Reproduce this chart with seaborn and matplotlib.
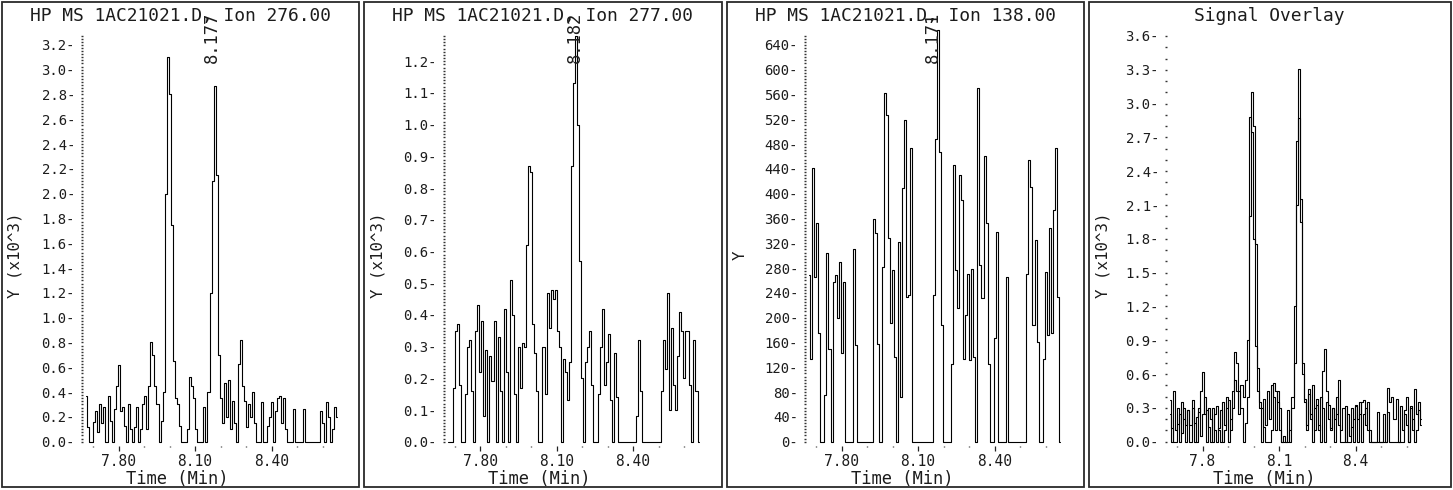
import numpy as np
import pandas as pd
import matplotlib
matplotlib.use("Agg")
import matplotlib.pyplot as plt
import matplotlib.transforms as mtransforms
from matplotlib.patches import Rectangle
from matplotlib.ticker import FixedLocator, MultipleLocator, FuncFormatter
import seaborn as sns

# Scan schedule of the SIM acquisition (minutes)
SCAN_START = 7.673
SCAN_STEP = 0.008

# Ion 276 abundance (x10^3)
ion_276 = [
    0.37, 0.12, 0, 0, 0.16, 0.25, 0.08, 0.30, 0.15, 0.28,
    0, 0.37, 0.17, 0, 0.26, 0.45, 0.62, 0.25, 0.28, 0.13,
    0, 0.30, 0.10, 0, 0.12, 0.28, 0, 0.10, 0.30, 0.37,
    0.10, 0.45, 0.80, 0.70, 0.45, 0.30, 0, 0.17, 0.40, 2.00,
    3.10, 2.80, 1.75, 0.65, 0.35, 0.30, 0.13, 0, 0, 0,
    0.10, 0.52, 0.45, 0.35, 0.10, 0, 0, 0, 0.28, 0,
    0.40, 1.20, 2.10, 2.87, 2.15, 0.70, 0.35, 0.15, 0.47, 0.20,
    0.50, 0.10, 0.33, 0.15, 0, 0.63, 0.82, 0.45, 0.33, 0.12,
    0.30, 0.20, 0.40, 0.15, 0, 0, 0.32, 0, 0, 0.13,
    0.20, 0.32, 0, 0.25, 0.35, 0.37, 0.15, 0.35, 0.10, 0,
    0, 0, 0.26, 0, 0, 0, 0, 0.26, 0, 0,
    0, 0, 0, 0, 0, 0.25, 0.15, 0, 0.32, 0.20,
    0, 0.10, 0.28, 0.20,
]

# Ion 277 abundance (x10^3)
ion_277 = [
    0, 0, 0, 0.17, 0.35, 0.37, 0.18, 0, 0, 0.15,
    0.30, 0.32, 0.16, 0, 0.35, 0.43, 0.22, 0.38, 0.08, 0.29,
    0, 0.27, 0.19, 0.38, 0, 0.33, 0.16, 0, 0.42, 0.22,
    0, 0.51, 0.40, 0.15, 0, 0.30, 0.17, 0.31, 0.30, 0.62,
    0.87, 0.85, 0.37, 0.28, 0.16, 0, 0, 0.30, 0.15, 0.47,
    0.36, 0.48, 0.45, 0.48, 0.35, 0.30, 0, 0.26, 0.22, 0.13,
    0.25, 0.87, 1.13, 1.28, 1.00, 0.57, 0.20, 0, 0.25, 0.30,
    0.35, 0.18, 0, 0, 0.15, 0.30, 0.42, 0.18, 0.25, 0.34,
    0.13, 0, 0.28, 0.14, 0, 0, 0, 0, 0, 0,
    0, 0, 0, 0.08, 0.32, 0.16, 0, 0, 0, 0,
    0, 0, 0, 0, 0, 0.16, 0.32, 0.23, 0.47, 0.10,
    0.36, 0.18, 0.10, 0.27, 0.41, 0.35, 0.20, 0.35, 0.35, 0.18,
    0, 0.32, 0.16, 0,
]

# Ion 138 abundance (counts)
ion_138 = [
    269, 133, 442, 265, 353, 175, 0, 0, 75, 304,
    150, 0, 258, 269, 199, 290, 143, 258, 0, 0,
    0, 0, 311, 156, 0, 0, 0, 0, 0, 0,
    0, 0, 359, 336, 158, 0, 282, 563, 527, 328,
    191, 277, 137, 0, 322, 72, 409, 519, 234, 236,
    473, 0, 0, 0, 0, 0, 0, 0, 0, 0,
    0, 236, 489, 664, 468, 188, 0, 0, 0, 0,
    126, 447, 277, 215, 430, 390, 134, 204, 271, 131,
    279, 137, 0, 570, 285, 231, 460, 352, 126, 0,
    0, 167, 339, 0, 0, 0, 0, 265, 0, 0,
    0, 0, 0, 0, 0, 0, 0, 271, 454, 411,
    188, 325, 161, 0, 0, 134, 274, 172, 344, 175,
    373, 473, 234, 0,
]

# Second signal of the overlay (x10^3)
overlay_b = [
    0.25, 0, 0.45, 0.10, 0.30, 0, 0.35, 0.20, 0, 0.28,
    0.15, 0.30, 0, 0.22, 0.30, 0.05, 0.25, 0.40, 0, 0.30,
    0.20, 0, 0.25, 0.32, 0.10, 0, 0.35, 0.15, 0.40, 0,
    0.20, 0.30, 0.55, 0.45, 0.25, 0.50, 0.40, 0.55, 0.90, 2.88,
    2.75, 1.80, 0.85, 0.45, 0.30, 0, 0.38, 0.15, 0.45, 0.20,
    0.50, 0.40, 0.10, 0.45, 0.30, 0, 0.05, 0, 0, 0.10,
    0.30, 0.70, 2.67, 3.31, 1.95, 0.60, 0.38, 0.10, 0.42, 0.25,
    0, 0.30, 0.38, 0.10, 0.40, 0.30, 0, 0.35, 0.20, 0.10,
    0.30, 0, 0.25, 0.55, 0.10, 0.30, 0, 0.25, 0.05, 0.30,
    0, 0.33, 0.20, 0.35, 0, 0.25, 0.30, 0.10, 0, 0,
    0, 0, 0, 0, 0, 0.25, 0, 0.48, 0.35, 0.40,
    0.20, 0.38, 0, 0.32, 0.10, 0.28, 0.40, 0, 0.30, 0.10,
    0.47, 0.25, 0.35, 0.15,
]

titles = [
    "HP MS 1AC21021.D, Ion 276.00",
    "HP MS 1AC21021.D, Ion 277.00",
    "HP MS 1AC21021.D, Ion 138.00",
    "Signal Overlay",
]
ylabels = ["Y (x10^3)", "Y (x10^3)", "Y", "Y (x10^3)"]
xlabel = "Time (Min)"
peak_labels = ["8.177", "8.182", "8.171", None]
peak_times = [8.177, 8.182, 8.171, None]
x_ticks = [7.80, 8.10, 8.40]
x_ticklabels = [["7.80", "8.10", "8.40"]] * 3 + [["7.8", "8.1", "8.4"]]
y_step = [0.2, 0.1, 40, 0.3]
y_tick_max = [3.2, 1.2, 640, 3.6]
y_minor = [0.025, 0.01, 5, 0.1]
y_fmt = ["{:.1f}-", "{:.1f}-", "{:.0f}-", "{:.1f}-"]

traces = [
    {"Ion 276": ion_276},
    {"Ion 277": ion_277},
    {"Ion 138": ion_138},
    {"Ion 276": ion_276, "Signal B": overlay_b},
]

sns.set_style("ticks")
plt.rcParams["font.family"] = ["DejaVu Sans Mono"]
TXT = "#1c1c1c"

W, H = 1453, 490
fig = plt.figure(figsize=(W / 100, H / 100), dpi=100)

# layout in pixels
panel_boxes = [(1.5, 359), (363.5, 722), (726.5, 1084), (1088.5, 1450.5)]
BOX_TOP, BOX_BOTTOM = 2.5, 487
spine_px = [82, 443.5, 805, 1166]
AX_TOP, AX_BOTTOM, AX_WIDTH = 33.0, 441.7, 263.0
PX_PER_MIN = 255.0
X_LEFT = 7.80 - 36.5 / PX_PER_MIN
X_RIGHT = X_LEFT + AX_WIDTH / PX_PER_MIN
px_per_unit = [124.0, 317.0, 0.62, 112.7]
ax_h = AX_BOTTOM - AX_TOP

for k in range(4):
    x0, x1 = panel_boxes[k]
    fig.add_artist(Rectangle((x0 / W, 1 - BOX_BOTTOM / H), (x1 - x0) / W,
                             (BOX_BOTTOM - BOX_TOP) / H, transform=fig.transFigure,
                             fill=False, lw=1.3, ec="#2a2a2a"))

    ax = fig.add_axes([spine_px[k] / W, 1 - AX_BOTTOM / H, AX_WIDTH / W, ax_h / H])
    frames = []
    for name, vals in traces[k].items():
        times = SCAN_START + SCAN_STEP * np.arange(len(vals))
        frames.append(pd.DataFrame({"time": times, "signal": vals, "trace": name}))
    df = pd.concat(frames, ignore_index=True)
    n_tr = df["trace"].nunique()
    sns.lineplot(data=df, x="time", y="signal", hue="trace", palette=["black"] * n_tr,
                 estimator=None, drawstyle="steps-mid", linewidth=0.8,
                 legend=False, ax=ax)
    for ln in ax.lines:
        ln.set_clip_on(False)

    ax.set_xlim(X_LEFT, X_RIGHT)
    ax.set_ylim(0, ax_h / px_per_unit[k])

    for s in ax.spines.values():
        s.set_visible(False)
    ax.spines["bottom"].set_position(("outward", 3))

    ax.xaxis.set_major_locator(FixedLocator(x_ticks))
    ax.set_xticklabels(x_ticklabels[k])
    ax.xaxis.set_minor_locator(MultipleLocator(0.1))
    ax.tick_params(axis="x", which="major", direction="out", length=3.6, width=0.9,
                   color="#222222", pad=2.5, labelsize=10.5, labelcolor=TXT, bottom=True)
    ax.tick_params(axis="x", which="minor", direction="out", length=1.0, width=1.0,
                   color="#333333", bottom=True)

    nmaj = int(round(y_tick_max[k] / y_step[k]))
    yt = [round(i * y_step[k], 4) for i in range(nmaj + 1)]
    ax.yaxis.set_major_locator(FixedLocator(yt))
    fmt = y_fmt[k]
    ax.yaxis.set_major_formatter(FuncFormatter(lambda v, p, f=fmt: f.format(v)))
    ax.yaxis.set_minor_locator(MultipleLocator(y_minor[k]))
    ax.yaxis.remove_overlapping_locs = False
    ax.tick_params(axis="y", which="major", length=0, pad=5, labelsize=10,
                   labelcolor=TXT, left=True)
    ax.tick_params(axis="y", which="minor", direction="inout", length=1.0, width=1.0,
                   color="#333333", left=True)

    ax.set_xlabel(xlabel, fontsize=12.3, color=TXT, va="center")
    ax.xaxis.set_label_coords((x0 + 175.5 - spine_px[k]) / AX_WIDTH,
                              (AX_BOTTOM - 479) / ax_h)
    ax.set_ylabel(ylabels[k], fontsize=11.3, color=TXT, va="center")
    ax.yaxis.set_label_coords((x0 + 14 - spine_px[k]) / AX_WIDTH,
                              (AX_BOTTOM - 255) / ax_h)

    ax.set_title(titles[k], fontsize=12.9, color=TXT, pad=0,
                 x=((x0 + x1) / 2 - spine_px[k]) / AX_WIDTH,
                 y=(AX_BOTTOM - 16) / ax_h, va="center")

    if peak_labels[k]:
        tr = (mtransforms.blended_transform_factory(ax.transData, ax.transAxes)
              + mtransforms.ScaledTranslation(-0.03, 0, fig.dpi_scale_trans))
        ax.text(peak_times[k], (AX_BOTTOM - 63) / ax_h, peak_labels[k], rotation=90,
                ha="center", va="bottom", transform=tr, fontsize=12.3, color=TXT,
                clip_on=False)

fig.savefig("out.png", dpi=100)
